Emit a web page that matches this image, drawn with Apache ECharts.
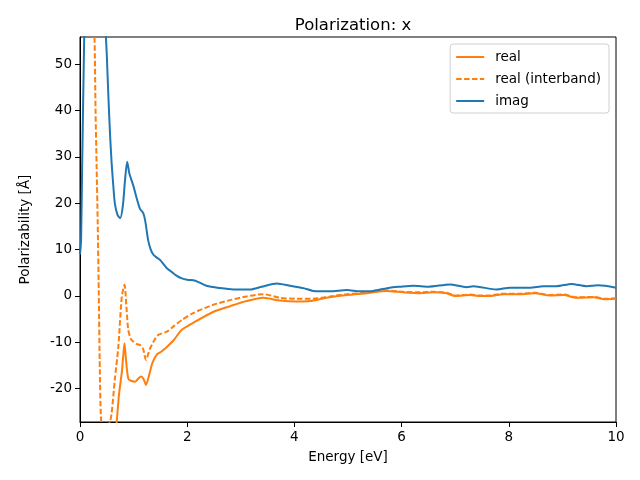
<!DOCTYPE html>
<html>
<head>
<meta charset="utf-8">
<script src="https://cdn.jsdelivr.net/npm/echarts@6/dist/echarts.min.js"></script>
<style>html,body{margin:0;padding:0;background:#fff}#c{width:640px;height:480px}</style>
</head>
<body>
<div id="c"></div>
<script>
const titleText = 'Polarization: x';
const xLabel = 'Energy [eV]';
const yLabel = 'Polarizability [Å]';
const xTicks = [0, 2, 4, 6, 8, 10];
const yTicks = [-20, -10, 0, 10, 20, 30, 40, 50];

const imagEnergy = [0, 0.02, 0.04, 0.07, 0.1, 0.2, 0.3, 0.4, 0.48, 0.5, 0.53, 0.56, 0.59, 0.62, 0.65, 0.7, 0.75, 0.8, 0.84, 0.88, 0.92, 1.0, 1.06, 1.12, 1.18, 1.22, 1.27, 1.32, 1.37, 1.43, 1.49, 1.55, 1.62, 1.71, 1.8, 1.9, 2.0, 2.15, 2.36, 2.61, 2.86, 3.17, 3.39, 3.67, 3.92, 4.17, 4.35, 4.66, 4.98, 5.22, 5.47, 5.78, 5.97, 6.22, 6.5, 6.9, 7.21, 7.34, 7.77, 8.02, 8.4, 8.64, 8.89, 9.17, 9.45, 9.67, 10];
const imagValues = [9, 12, 28, 50, 70, 120, 130, 100, 57, 52, 43, 35, 28.7, 24, 20, 17.5, 16.8, 19.5, 25, 29, 26.5, 23.6, 21, 18.8, 17.9, 16, 12.1, 10, 8.9, 8.3, 7.8, 7, 6, 5.2, 4.4, 3.8, 3.5, 3.3, 2.2, 1.7, 1.4, 1.4, 2.0, 2.7, 2.2, 1.7, 1.1, 1.0, 1.3, 1.0, 1.1, 1.8, 2.0, 2.2, 2.0, 2.5, 1.9, 2.1, 1.4, 1.8, 1.8, 2.1, 2.1, 2.6, 2.1, 2.3, 1.8];

const interEnergy = [0, 0.1, 0.2, 0.27, 0.29, 0.31, 0.33, 0.35, 0.37, 0.39, 0.42, 0.5, 0.55, 0.59, 0.65, 0.715, 0.78, 0.83, 0.87, 0.9, 0.95, 1.0, 1.06, 1.12, 1.18, 1.23, 1.3, 1.37, 1.46, 1.62, 1.75, 1.9, 2.11, 2.49, 2.8, 3.11, 3.42, 3.73, 4.04, 4.35, 4.66, 4.98, 5.35, 5.72, 6.03, 6.34, 6.59, 6.84, 7.0, 7.28, 7.43, 7.65, 7.9, 8.21, 8.49, 8.77, 9.02, 9.27, 9.58, 9.79, 10];
const interValues = [70, 85, 75, 56, 40, 28, 16, 1, -16, -26, -28.5, -27.8, -27.5, -25.3, -18, -11, -0.1, 2.4, -3, -7.3, -9.3, -9.9, -10.4, -10.6, -11.5, -13.8, -11.5, -9.9, -8.4, -7.7, -6.5, -5.2, -3.7, -1.9, -0.9, -0.1, 0.4, -0.4, -0.6, -0.6, -0.1, 0.4, 0.7, 1.2, 0.9, 0.8, 0.9, 0.7, 0.1, 0.3, 0.1, 0.1, 0.5, 0.5, 0.7, 0.2, 0.3, -0.3, -0.2, -0.6, -0.5];

const realEnergy = [0.02, 0.2, 0.4, 0.6, 0.685, 0.73, 0.78, 0.81, 0.83, 0.86, 0.9, 0.95, 1.03, 1.09, 1.14, 1.19, 1.23, 1.28, 1.35, 1.43, 1.52, 1.62, 1.75, 1.9, 2.11, 2.49, 2.8, 3.11, 3.42, 3.73, 4.04, 4.29, 4.6, 4.98, 5.35, 5.72, 6.03, 6.34, 6.59, 6.84, 7.0, 7.28, 7.43, 7.65, 7.9, 8.21, 8.49, 8.77, 9.02, 9.27, 9.58, 9.79, 10];
const realValues = [-400, -150, -80, -40, -27.2, -21, -16.5, -12.5, -10.2, -14, -17.8, -18.3, -18.5, -17.8, -17.4, -18.0, -19.2, -17.5, -14.5, -12.7, -12, -11, -9.5, -7.3, -5.8, -3.4, -2.2, -1.1, -0.4, -1.0, -1.2, -1.1, -0.4, 0.2, 0.6, 1.1, 0.8, 0.6, 0.8, 0.6, 0.0, 0.2, 0.0, 0.0, 0.4, 0.4, 0.6, 0.1, 0.2, -0.4, -0.3, -0.7, -0.6];

const pairs = (xs, ys) => xs.map((x, i) => [x, ys[i]]);
const font = 'DejaVu Sans';

const chart = echarts.init(document.getElementById('c'), null, {renderer: 'canvas'});
chart.setOption({
  animation: false,
  backgroundColor: '#fff',
  title: {
    text: titleText, left: 348, top: 12, textAlign: 'center',
    textStyle: {fontFamily: font, fontSize: 16.5, fontWeight: 'normal', color: '#000'}
  },
  grid: {left: 80, right: 24, top: 37, bottom: 58, show: true, borderColor: '#000', borderWidth: 1, backgroundColor: 'transparent'},
  legend: {
    orient: 'vertical', right: 31, top: 44,
    padding: [6, 8, 5, 5], itemGap: 8, itemWidth: 28, itemHeight: 14,
    borderColor: '#d0d0d0', borderWidth: 1, borderRadius: 3, backgroundColor: 'rgba(255,255,255,0.8)',
    itemStyle: {opacity: 0},
    textStyle: {fontFamily: font, fontSize: 13.5, color: '#000', padding: [0, 0, 0, 6]},
    data: ['real', 'real (interband)', 'imag']
  },
  xAxis: {
    type: 'value', min: 0, max: 10, interval: 2,
    name: xLabel, nameLocation: 'middle', nameGap: 28,
    nameTextStyle: {fontFamily: font, fontSize: 13.5, color: '#000'},
    axisLine: {show: true, onZero: false, lineStyle: {color: '#000', width: 1}},
    axisTick: {show: true, inside: false, length: 5, lineStyle: {color: '#000'}},
    axisLabel: {fontFamily: font, fontSize: 13.5, color: '#000', margin: 8},
    splitLine: {show: false}
  },
  yAxis: {
    type: 'value', min: -27.2, max: 55.9,
    name: yLabel, nameLocation: 'middle', nameGap: 48,
    nameTextStyle: {fontFamily: font, fontSize: 13.5, color: '#000'},
    axisLine: {show: true, onZero: false, lineStyle: {color: '#000', width: 1}},
    axisTick: {show: true, inside: false, length: 5, lineStyle: {color: '#000'}, customValues: yTicks},
    axisLabel: {fontFamily: font, fontSize: 13.5, color: '#000', margin: 8, customValues: yTicks},
    splitLine: {show: false}
  },
  series: [
    {name: 'real', type: 'line', data: pairs(realEnergy, realValues), showSymbol: false, symbol: 'none', smooth: 0.25,
     lineStyle: {color: '#ff7f0e', width: 2}, itemStyle: {color: '#ff7f0e'}, clip: true, z: 3},
    {name: 'real (interband)', type: 'line', data: pairs(interEnergy, interValues), showSymbol: false, symbol: 'none', smooth: 0.25,
     lineStyle: {color: '#ff7f0e', width: 2, type: [5.5, 2.4]}, itemStyle: {color: '#ff7f0e'}, clip: true, z: 3},
    {name: 'imag', type: 'line', data: pairs(imagEnergy, imagValues), showSymbol: false, symbol: 'none', smooth: 0.25,
     lineStyle: {color: '#1f77b4', width: 2}, itemStyle: {color: '#1f77b4'}, clip: true, z: 3}
  ]
});
</script>
</body>
</html>
